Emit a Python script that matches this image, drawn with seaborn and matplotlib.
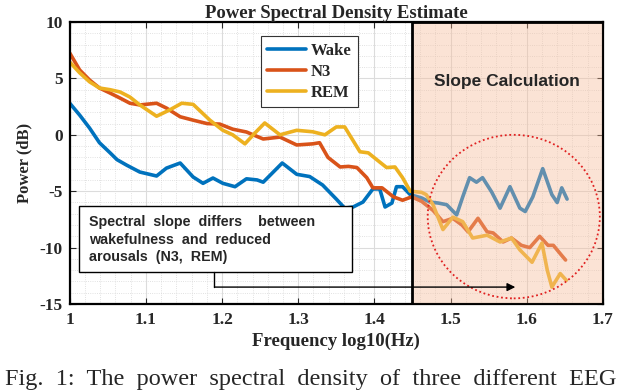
import matplotlib
matplotlib.use("Agg")
import matplotlib.pyplot as plt
import matplotlib.patches as mpatches
from matplotlib.ticker import MultipleLocator
import numpy as np
import pandas as pd
import seaborn as sns

sns.set_style("ticks")
plt.rcParams['font.family'] = ['Liberation Serif', 'DejaVu Serif']
plt.rcParams['axes.unicode_minus'] = False

# values (log10 frequency, power in dB)
wake_x = [1.000, 1.013, 1.026, 1.039, 1.053, 1.062, 1.075, 1.092, 1.114, 1.127,
          1.145, 1.162, 1.175, 1.188, 1.201, 1.217, 1.232, 1.246, 1.254, 1.279,
          1.298, 1.315, 1.332, 1.350, 1.361, 1.372, 1.385, 1.398, 1.407, 1.414,
          1.423, 1.429, 1.437, 1.447, 1.462, 1.473, 1.484, 1.495, 1.508, 1.516,
          1.525, 1.534, 1.542, 1.554, 1.565, 1.578, 1.591, 1.598, 1.608, 1.621,
          1.633, 1.640, 1.646, 1.653]
wake_y = [2.8, 1.75, 0.6, -0.7, -1.6, -2.2, -2.7, -3.3, -3.65, -2.95,
          -2.5, -3.74, -4.3, -3.83, -4.3, -4.6, -3.9, -4.0, -4.2, -2.5,
          -3.5, -3.7, -4.45, -5.7, -6.5, -6.4, -5.96, -4.8, -4.8, -6.4,
          -6.05, -4.6, -4.6, -5.3, -5.6, -5.96, -6.05, -6.2, -7.1, -5.5,
          -3.8, -4.2, -3.8, -5.07, -6.5, -4.6, -6.5, -6.8, -5.5, -3.0,
          -5.3, -6.0, -4.7, -5.7]

n3_x = [1.000, 1.013, 1.026, 1.039, 1.053, 1.066, 1.079, 1.092, 1.114, 1.127,
        1.145, 1.162, 1.180, 1.197, 1.214, 1.232, 1.254, 1.276, 1.298, 1.319,
        1.328, 1.339, 1.355, 1.366, 1.377, 1.390, 1.398, 1.410, 1.425, 1.437,
        1.449, 1.462, 1.477, 1.490, 1.503, 1.515, 1.523, 1.536, 1.548, 1.556,
        1.569, 1.580, 1.593, 1.604, 1.617, 1.628, 1.635, 1.646, 1.651]
n3_y = [7.25, 5.75, 4.86, 4.15, 3.7, 3.26, 2.8, 2.65, 2.8, 2.37,
        1.6, 1.3, 1.0, 0.95, 0.5, 0.25, -0.37, -0.2, -0.9, -0.8,
        -0.7, -2.0, -2.85, -2.8, -2.9, -3.8, -4.7, -4.7, -5.5, -5.8,
        -5.5, -5.9, -6.7, -7.7, -7.4, -8.0, -8.6, -7.4, -8.6, -8.7,
        -9.5, -9.15, -9.8, -10.0, -9.0, -9.8, -9.8, -10.7, -11.1]

rem_x = [1.000, 1.013, 1.026, 1.039, 1.053, 1.066, 1.079, 1.092, 1.114, 1.131,
         1.147, 1.162, 1.184, 1.201, 1.214, 1.230, 1.243, 1.256, 1.276, 1.298,
         1.319, 1.335, 1.350, 1.361, 1.381, 1.392, 1.403, 1.416, 1.427, 1.437,
         1.447, 1.462, 1.468, 1.477, 1.490, 1.503, 1.516, 1.529, 1.548, 1.565,
         1.580, 1.591, 1.607, 1.620, 1.627, 1.633, 1.644, 1.652]
rem_y = [6.45, 5.5, 4.7, 4.15, 4.0, 3.8, 3.35, 2.65, 1.65, 2.2,
         2.8, 2.7, 1.3, 0.4, 0.0, -0.8, 0.15, 1.05, 0.0, 0.4,
         0.27, 0.0, 0.7, 0.7, -1.5, -1.6, -2.2, -2.9, -2.85, -3.8,
         -5.0, -5.1, -5.3, -6.2, -8.4, -7.3, -7.7, -9.15, -8.9, -9.5,
         -9.15, -10.2, -11.3, -9.6, -12.0, -13.5, -12.3, -12.9]

stages = ["Wake", "N3", "REM"]
colors = ["#0072BD", "#D95319", "#EDB120"]

df = pd.concat([
    pd.DataFrame({"freq": wake_x, "power": wake_y, "stage": "Wake"}),
    pd.DataFrame({"freq": n3_x, "power": n3_y, "stage": "N3"}),
    pd.DataFrame({"freq": rem_x, "power": rem_y, "stage": "REM"}),
])

fig = plt.figure(figsize=(6.4, 3.9), dpi=100)
ax = fig.add_axes([0.109, 0.2205, 0.833, 0.723])

sns.lineplot(data=df, x="freq", y="power", hue="stage", hue_order=stages,
             palette=colors, estimator=None, sort=False, linewidth=2.6,
             ax=ax, zorder=2)

ax.set_xlim(1.0, 1.7)
ax.set_ylim(-15, 10)
ax.xaxis.set_minor_locator(MultipleLocator(0.02))
ax.yaxis.set_major_locator(MultipleLocator(5))
ax.yaxis.set_minor_locator(MultipleLocator(1))
ax.set_xticks(np.arange(1.0, 1.71, 0.1))
ax.set_xticklabels(["1", "1.1", "1.2", "1.3", "1.4", "1.5", "1.6", "1.7"])
ax.grid(which="major", color="#dcdcdc", linewidth=0.8, zorder=0)
ax.grid(which="minor", color="#d8d8d8", linewidth=0.6, linestyle=":", zorder=0)
ax.set_axisbelow(True)
ax.tick_params(which="both", direction="in", top=True, right=True)
ax.tick_params(which="minor", length=0)
ax.tick_params(which="major", length=4, width=0.8, labelsize=12.5, pad=6)
ax.tick_params(axis="y", which="major", pad=5)
for lab in ax.get_xticklabels() + ax.get_yticklabels():
    lab.set_fontweight("bold")
for s in ax.spines.values():
    s.set_linewidth(1.6)
    s.set_color("black")

ax.set_xlabel("Frequency log10(Hz)", fontsize=13.5, fontweight="bold", labelpad=3)
ax.set_ylabel("Power (dB)", fontsize=12, fontweight="bold", labelpad=5)
ax.set_title("Power Spectral Density Estimate", fontsize=13.5, fontweight="bold", pad=1)

# shaded slope-calculation region
ax.add_patch(mpatches.Rectangle((1.45, -15), 0.25, 25, facecolor="#f7bb98",
                                alpha=0.4, edgecolor="none", zorder=3))
ax.add_patch(mpatches.Rectangle((1.45, -15), 0.25, 25, facecolor="none",
                                edgecolor="black", linewidth=2, zorder=4))
ax.text(1.574, 4.7, "Slope Calculation", family="Liberation Sans",
        fontweight="bold", fontsize=12.5, ha="center", va="center", zorder=6)
ax.add_patch(mpatches.Ellipse((1.583, -7.25), 0.226, 14.5, facecolor="none",
                              edgecolor="#e02020", linestyle=(0, (1, 1.5)),
                              linewidth=1.3, zorder=5))

# annotation box and arrow
ax.add_patch(mpatches.Rectangle((1.012, -12.16), 0.358, 5.86, facecolor="white",
                                edgecolor="black", linewidth=1.0, zorder=5))
ax.text(1.025, -7.15, "Spectral  slope  differs    between\nwakefulness  and  reduced\narousals  (N3,  REM)",
        family="Liberation Sans", fontweight="bold", fontsize=10.3,
        ha="left", va="top", linespacing=1.3, zorder=6)
ax.plot([1.19, 1.19], [-12.16, -13.5], color="black", linewidth=1.0, zorder=5)
ax.annotate("", xy=(1.585, -13.5), xytext=(1.19, -13.5),
            arrowprops=dict(arrowstyle="-|>", color="black", lw=1.0,
                            mutation_scale=12, shrinkA=0, shrinkB=0), zorder=5)

leg = ax.legend(loc="upper left", bbox_to_anchor=(0.358, 0.95), frameon=True,
                fancybox=False, edgecolor="#333333", framealpha=1,
                borderaxespad=0, handlelength=2.3, handletextpad=0.3,
                borderpad=0.4, labelspacing=0.3,
                prop={"family": "Liberation Serif", "weight": "bold", "size": 12})
leg.set_zorder(7)
leg.get_frame().set_linewidth(0.8)
for line in leg.get_lines():
    line.set_linewidth(2.6)

fig.text(0.008, 0.013, "Fig.  1:  The  power  spectral  density  of  three  different  EEG",
         fontsize=17.5, ha="left", va="baseline")

fig.savefig("out.png", dpi=100)
